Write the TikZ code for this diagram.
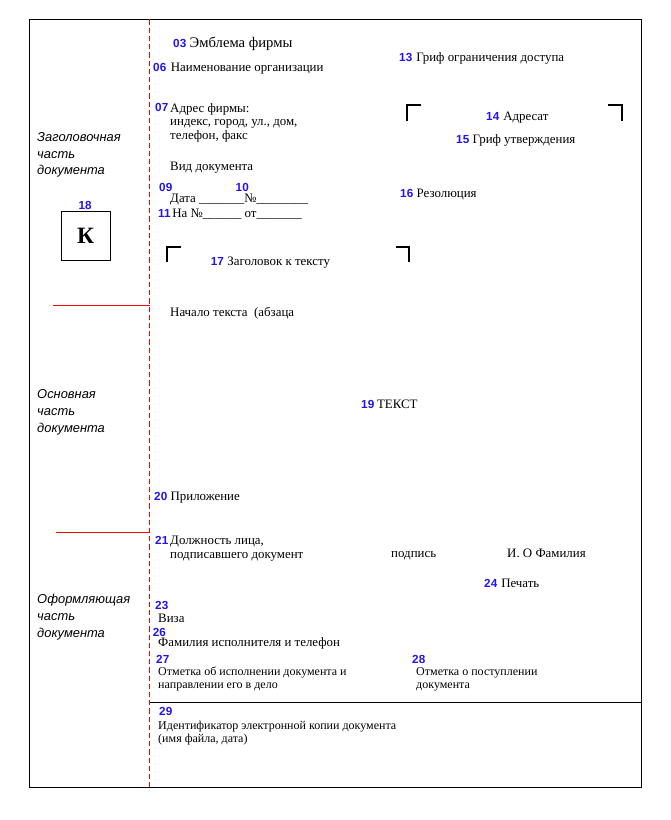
\documentclass[tikz,border=0pt]{standalone}
\usepackage{fontspec}
\setmainfont{Liberation Serif}
\setsansfont{Liberation Sans}
\usetikzlibrary{positioning}
\definecolor{numblue}{RGB}{35,20,235}

\begin{document}
\begin{tikzpicture}[x=0.03cm,y=-0.03cm,node distance=2.5pt]
  \tikzstyle{lbl}=[inner sep=0pt,anchor=base west,align=left,font=\fontsize{11}{11.7}\selectfont]
  \tikzstyle{small}=[lbl,font=\fontsize{10.25}{11.4}\selectfont]
  \tikzstyle{num}=[inner sep=0pt,anchor=base west,text=numblue,font=\sffamily\bfseries\fontsize{10}{12}\selectfont]
  \tikzstyle{part}=[inner sep=0pt,anchor=base west,align=left,font=\sffamily\itshape\fontsize{11}{14.3}\selectfont]
  \tikzstyle{corner}=[line width=2pt]
  \tikzstyle{hair}=[line width=0.85pt]
  \tikzstyle{redline}=[draw=red,line width=1pt]
  \useasboundingbox (0,0) rectangle (670,820);

  \draw[hair] (29.5,19.5) rectangle (641.5,787.5);
  \draw[redline,dash pattern=on 4.5pt off 2.5pt] (149.5,19.5) -- (149.5,787.5);
  \draw[redline] (53,305.5) -- (149.5,305.5);
  \draw[redline] (56,532.5) -- (149.5,532.5);
  \draw[hair] (149.5,702.5) -- (641.5,702.5);

  \node[part] (zag) at (37,175) {Заголовочная\\часть\\документа};
  \node[part] (osn) at (37,432.5) {Основная\\часть\\документа};
  \node[part] (ofo) at (37,637) {Оформляющая\\часть\\документа};

  \node[num] (n03) at (173,48) {03};
  \node[lbl,base right=2.5pt of n03,font=\fontsize{12.5}{14}\selectfont] (emb) {Эмблема фирмы};
  \node[num] (n06) at (153,72) {06};
  \node[lbl,base right=3.5pt of n06] (org) {Наименование организации};
  \node[num] (n07) at (155,112) {07};
  \node[lbl] (adr) at (170,139.5) {Адрес фирмы:\\индекс, город, ул., дом,\\телефон, факс};
  \node[lbl] (vid) at (170,171) {Вид документа};
  \node[num] (n09) at (159,191.5) {09};
  \node[num] (n10) at (235.5,191.5) {10};
  \node[lbl] (data) at (170,202.5) {Дата \_\_\_\_\_\_\_№\_\_\_\_\_\_\_\_};
  \node[num] (n11) at (158,217) {11};
  \node[lbl,base right=1pt of n11] (nano) {На №\_\_\_\_\_\_ от\_\_\_\_\_\_\_};

  \node[num] (n18) at (78.5,209) {18};
  \node[draw,hair,inner sep=0pt,minimum width=1.47cm,minimum height=1.47cm,
        font=\bfseries\fontsize{20}{24}\selectfont] (kbox) at (85.5,235.5) {К};

  \draw[corner] (167,262) -- (167,247) -- (181,247);
  \draw[corner] (396,247) -- (409,247) -- (409,262);
  \node[num] (n17) at (210.7,265) {17};
  \node[lbl,base right=2.5pt of n17] (zgl) {Заголовок к тексту};
  \node[lbl] (nach) at (170,316) {Начало текста~~(абзаца};

  \node[num] (n13) at (399,62) {13};
  \node[lbl,base right=3pt of n13] (grif) {Гриф ограничения доступа};
  \draw[corner] (407,121) -- (407,105) -- (421,105);
  \draw[corner] (608,105) -- (622,105) -- (622,121);
  \node[num] (n14) at (486,121) {14};
  \node[lbl,base right=3pt of n14] (adrs) {Адресат};
  \node[num] (n15) at (456,143.5) {15};
  \node[lbl,base right=2.5pt of n15] (utv) {Гриф утверждения};
  \node[num] (n16) at (400,198) {16};
  \node[lbl,base right=2.5pt of n16] (rez) {Резолюция};

  \node[num] (n19) at (361,408) {19};
  \node[lbl,base right=2pt of n19] (txt) {ТЕКСТ};
  \node[num] (n20) at (154,500) {20};
  \node[lbl,base right=2.5pt of n20] (pril) {Приложение};

  \node[num] (n21) at (155,544) {21};
  \node[lbl] (dolzh) at (170,558) {Должность лица,\\подписавшего документ};
  \node[lbl] (podp) at (391,557) {подпись};
  \node[lbl] (fio) at (507,557) {И. О Фамилия};
  \node[num] (n24) at (484,587) {24};
  \node[lbl,base right=3pt of n24] (pech) {Печать};

  \node[num] (n23) at (155,609) {23};
  \node[lbl] (viza) at (158,622.7) {Виза};
  \node[num] (n26) at (152.7,636.5) {26};
  \node[lbl] (ispol) at (158,646) {Фамилия исполнителя и телефон};
  \node[num] (n27) at (156,663) {27};
  \node[small] (otm) at (158,688.5) {Отметка об исполнении документа и\\направлении его в дело};
  \node[num] (n28) at (412,663) {28};
  \node[small] (post) at (416,688.5) {Отметка о поступлении\\документа};
  \node[num] (n29) at (159,715) {29};
  \node[small] (ident) at (158,742.5) {Идентификатор электронной копии документа\\(имя файла, дата)};
\end{tikzpicture}
\end{document}
